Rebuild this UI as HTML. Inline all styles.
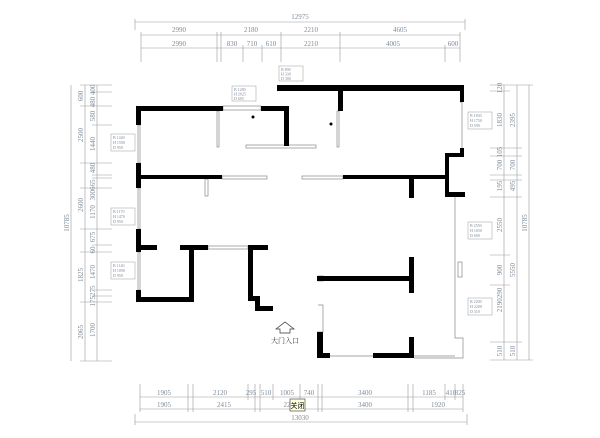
<!DOCTYPE html>
<html><head><meta charset="utf-8"><style>
html,body{margin:0;padding:0;background:#fff;width:600px;height:438px;overflow:hidden}
svg{display:block}
text{font-family:"Liberation Serif","Noto Serif CJK SC",serif;fill:#7f8c9a;font-size:7px}
</style></head><body>
<svg width="600" height="438" viewBox="0 0 600 438">
<g stroke="#999" stroke-width="0.6" fill="none">
<!-- top dims -->
<line x1="135" y1="22" x2="465" y2="22"/>
<line x1="135" y1="19" x2="135" y2="30"/><line x1="465" y1="19" x2="465" y2="30"/>
<line x1="141" y1="35" x2="460" y2="35"/>
<line x1="141" y1="48" x2="460" y2="48"/>
<g>
<line x1="141" y1="32" x2="141" y2="62"/><line x1="217" y1="32" x2="217" y2="62"/><line x1="221" y1="32" x2="221" y2="62"/>
<line x1="281" y1="32" x2="281" y2="62"/><line x1="340" y1="32" x2="340" y2="62"/><line x1="460" y1="32" x2="460" y2="62"/>
<line x1="243" y1="45" x2="243" y2="62"/><line x1="262" y1="45" x2="262" y2="62"/><line x1="445" y1="45" x2="445" y2="62"/>
</g>
<!-- bottom dims -->
<line x1="140" y1="397" x2="463" y2="397"/>
<line x1="140" y1="409" x2="463" y2="409"/>
<line x1="135" y1="422" x2="467" y2="422"/>
<line x1="135" y1="414" x2="135" y2="425"/><line x1="467" y1="414" x2="467" y2="425"/>
<g>
<line x1="140" y1="384" x2="140" y2="412"/><line x1="188" y1="384" x2="188" y2="412"/><line x1="193" y1="384" x2="193" y2="412"/>
<line x1="248" y1="384" x2="248" y2="400"/><line x1="255" y1="384" x2="255" y2="412"/><line x1="260" y1="384" x2="260" y2="412"/>
<line x1="273" y1="384" x2="273" y2="400"/><line x1="300" y1="384" x2="300" y2="400"/><line x1="318" y1="384" x2="318" y2="412"/>
<line x1="322" y1="384" x2="322" y2="412"/><line x1="408" y1="384" x2="408" y2="412"/><line x1="413" y1="384" x2="413" y2="412"/>
<line x1="445" y1="384" x2="445" y2="400"/><line x1="455" y1="384" x2="455" y2="400"/><line x1="463" y1="384" x2="463" y2="412"/>
</g>
<!-- left dims -->
<line x1="71" y1="85" x2="71" y2="361"/><line x1="85" y1="85" x2="85" y2="361"/><line x1="97" y1="85" x2="97" y2="361"/>
<g>
<line x1="80" y1="85" x2="112" y2="85"/><line x1="80" y1="106" x2="112" y2="106"/><line x1="80" y1="163" x2="112" y2="163"/>
<line x1="80" y1="188" x2="112" y2="188"/><line x1="80" y1="229" x2="112" y2="229"/><line x1="80" y1="252" x2="112" y2="252"/>
<line x1="80" y1="302" x2="112" y2="302"/><line x1="80" y1="361" x2="112" y2="361"/>
<line x1="92" y1="92" x2="112" y2="92"/><line x1="92" y1="125" x2="112" y2="125"/><line x1="92" y1="175" x2="112" y2="175"/>
<line x1="92" y1="178" x2="112" y2="178"/><line x1="92" y1="245" x2="112" y2="245"/><line x1="92" y1="290" x2="112" y2="290"/>
<line x1="92" y1="296" x2="112" y2="296"/>
</g>
<!-- right dims -->
<line x1="504" y1="85" x2="504" y2="360"/><line x1="517" y1="85" x2="517" y2="360"/><line x1="529" y1="85" x2="529" y2="360"/>
<g>
<line x1="490" y1="85" x2="533" y2="85"/><line x1="490" y1="148" x2="522" y2="148"/><line x1="490" y1="156" x2="522" y2="156"/>
<line x1="490" y1="175" x2="522" y2="175"/><line x1="490" y1="180" x2="522" y2="180"/><line x1="490" y1="197" x2="522" y2="197"/>
<line x1="490" y1="255" x2="510" y2="255"/><line x1="490" y1="285" x2="510" y2="285"/><line x1="490" y1="342" x2="522" y2="342"/>
<line x1="490" y1="360" x2="533" y2="360"/><line x1="490" y1="91" x2="510" y2="91"/>
</g>
</g>
<!-- dim texts -->
<g text-anchor="middle">
<text x="300" y="19">12975</text>
<text x="179" y="32">2990</text><text x="251" y="32">2180</text><text x="311" y="32">2210</text><text x="400" y="32">4605</text>
<text x="179" y="46">2990</text><text x="232" y="46">830</text><text x="252" y="46">710</text><text x="271" y="46">610</text>
<text x="311" y="46">2210</text><text x="393" y="46">4005</text><text x="453" y="46">600</text>
<text x="164" y="395">1905</text><text x="220" y="395">2120</text><text x="251" y="395">295</text><text x="266" y="395">510</text>
<text x="287" y="395">1005</text><text x="309" y="395">740</text><text x="365" y="395">3400</text><text x="429" y="395">1185</text>
<text x="451" y="395">410</text><text x="460" y="395">325</text>
<text x="164" y="407">1905</text><text x="224" y="407">2415</text><text x="287" y="407">22</text><text x="365" y="407">3400</text><text x="438" y="407">1920</text>
<text x="300" y="420">13030</text>
</g>
<g text-anchor="middle">
<text transform="translate(69,223) rotate(-90)">10785</text>
<text transform="translate(83,96) rotate(-90)">600</text><text transform="translate(83,135) rotate(-90)">2500</text>
<text transform="translate(83,205) rotate(-90)">2600</text><text transform="translate(83,275) rotate(-90)">1825</text>
<text transform="translate(83,332) rotate(-90)">2065</text>
<text transform="translate(95,96) rotate(-90)">480 400</text><text transform="translate(95,116) rotate(-90)">580</text>
<text transform="translate(95,144) rotate(-90)">1440</text><text transform="translate(95,168) rotate(-90)">480</text>
<text transform="translate(95,190) rotate(-90)">300665</text><text transform="translate(95,212) rotate(-90)">1170</text>
<text transform="translate(95,237) rotate(-90)">675</text><text transform="translate(95,250) rotate(-90)">60</text>
<text transform="translate(95,272) rotate(-90)">1470</text><text transform="translate(95,296) rotate(-90)">175275</text>
<text transform="translate(95,330) rotate(-90)">1700</text>
<text transform="translate(502,88) rotate(-90)">120</text><text transform="translate(502,120) rotate(-90)">1830</text>
<text transform="translate(502,152) rotate(-90)">105</text><text transform="translate(502,165) rotate(-90)">700</text>
<text transform="translate(502,186) rotate(-90)">195</text><text transform="translate(502,225) rotate(-90)">2550</text>
<text transform="translate(502,270) rotate(-90)">900</text><text transform="translate(502,300) rotate(-90)">2190290</text>
<text transform="translate(502,351) rotate(-90)">510</text>
<text transform="translate(515,120) rotate(-90)">2395</text><text transform="translate(515,165) rotate(-90)">700</text>
<text transform="translate(515,186) rotate(-90)">495</text><text transform="translate(515,270) rotate(-90)">5550</text>
<text transform="translate(515,351) rotate(-90)">510</text>
<text transform="translate(527,223) rotate(-90)">10785</text>
</g>
<!-- thin outlines -->
<g stroke="#888" stroke-width="0.7" fill="#fff">
<rect x="138" y="125" width="2" height="38"/>
<rect x="138" y="252" width="2" height="38"/>
<rect x="138" y="188" width="2" height="41"/>
<polyline points="455,197 455,338 463,338 463,358 414,358"/>
<polyline points="460,102 462,102 462,148"/>
<rect x="222" y="176" width="45" height="3"/>
<rect x="302" y="176" width="41" height="3"/>
<rect x="246" y="145" width="70" height="3"/>
<rect x="217" y="111" width="2" height="36"/>
<rect x="337" y="111" width="2" height="36"/>
<rect x="208" y="246" width="40" height="3"/>
<rect x="205" y="179" width="3" height="17"/>
<rect x="318" y="276" width="5" height="5"/>
<polyline points="318,305 323,305 323,332 317,332"/>
<polyline points="330,356 373,356"/>
<polyline points="414,356 455,356"/>
<rect x="458" y="262" width="4" height="15"/>
<rect x="223" y="106" width="38" height="4"/>
</g>
<!-- walls -->
<g fill="#000">
<rect x="136" y="106" width="87" height="5"/><rect x="136" y="106" width="5" height="19"/>
<rect x="136" y="163" width="5" height="25"/><rect x="136" y="175" width="86" height="4"/>
<rect x="261" y="106" width="28" height="5"/><rect x="284" y="106" width="5" height="40"/>
<rect x="277" y="85" width="187" height="6"/><rect x="460" y="85" width="4" height="17"/>
<rect x="338" y="91" width="5" height="20"/>
<rect x="460" y="148" width="4" height="8"/><rect x="445" y="153" width="19" height="4"/>
<rect x="445" y="153" width="4" height="44"/><rect x="445" y="192" width="20" height="5"/>
<rect x="343" y="175" width="102" height="4"/><rect x="409" y="179" width="5" height="19"/>
<rect x="136" y="229" width="5" height="23"/><rect x="136" y="245" width="21" height="5"/>
<rect x="136" y="290" width="5" height="12"/><rect x="136" y="297" width="57" height="5"/>
<rect x="189" y="245" width="5" height="57"/><rect x="180" y="245" width="28" height="5"/>
<rect x="248" y="245" width="20" height="5"/><rect x="248" y="245" width="5" height="55"/>
<rect x="248" y="296" width="12" height="5"/><rect x="255" y="296" width="5" height="15"/>
<rect x="255" y="306" width="18" height="5"/>
<rect x="317" y="276" width="96" height="5"/><rect x="409" y="257" width="5" height="36"/>
<rect x="317" y="332" width="6" height="26"/><rect x="317" y="353" width="13" height="5"/>
<rect x="373" y="353" width="41" height="5"/><rect x="409" y="337" width="5" height="21"/>
<circle cx="253" cy="117" r="1.5"/><circle cx="331" cy="124" r="1.5"/>
</g>
<!-- info boxes -->
<g font-size="4">
<g transform="translate(232,86)"><rect width="24" height="15" fill="#fff" stroke="#999" stroke-width="0.5"/><text x="2" y="5" style="font-size:4px">B  1280</text><text x="2" y="9.5" style="font-size:4px">H  2025</text><text x="2" y="14" style="font-size:4px">D  605</text></g>
<g transform="translate(279,66)"><rect width="24" height="15" fill="#fff" stroke="#999" stroke-width="0.5"/><text x="2" y="5" style="font-size:4px">B  890</text><text x="2" y="9.5" style="font-size:4px">H  330</text><text x="2" y="14" style="font-size:4px">D  300</text></g>
<g transform="translate(111,134)"><rect width="24" height="17" fill="#fff" stroke="#999" stroke-width="0.5"/><text x="2" y="5" style="font-size:4px">B  1440</text><text x="2" y="10" style="font-size:4px">H  1590</text><text x="2" y="15" style="font-size:4px">D  950</text></g>
<g transform="translate(111,208)"><rect width="24" height="17" fill="#fff" stroke="#999" stroke-width="0.5"/><text x="2" y="5" style="font-size:4px">B  1170</text><text x="2" y="10" style="font-size:4px">H  1470</text><text x="2" y="15" style="font-size:4px">D  950</text></g>
<g transform="translate(111,262)"><rect width="24" height="17" fill="#fff" stroke="#999" stroke-width="0.5"/><text x="2" y="5" style="font-size:4px">B  1140</text><text x="2" y="10" style="font-size:4px">H  1090</text><text x="2" y="15" style="font-size:4px">D  950</text></g>
<g transform="translate(468,112)"><rect width="24" height="17" fill="#fff" stroke="#999" stroke-width="0.5"/><text x="2" y="5" style="font-size:4px">B  1830</text><text x="2" y="10" style="font-size:4px">H  1750</text><text x="2" y="15" style="font-size:4px">D  590</text></g>
<g transform="translate(468,222)"><rect width="24" height="17" fill="#fff" stroke="#999" stroke-width="0.5"/><text x="2" y="5" style="font-size:4px">B  2550</text><text x="2" y="10" style="font-size:4px">H  1650</text><text x="2" y="15" style="font-size:4px">D  600</text></g>
<g transform="translate(468,298)"><rect width="24" height="17" fill="#fff" stroke="#999" stroke-width="0.5"/><text x="2" y="5" style="font-size:4px">B  2200</text><text x="2" y="10" style="font-size:4px">H  2200</text><text x="2" y="15" style="font-size:4px">D  310</text></g>
</g>
<!-- entrance -->
<polygon points="276,329 285,322 294,329 290,329 290,333 280,333 280,329" fill="#fff" stroke="#333" stroke-width="0.7"/>
<text x="285" y="343" text-anchor="middle" style="fill:#333;font-size:7px">大门入口</text>
<!-- tooltip -->
<rect x="290" y="399" width="15" height="12" fill="#ffffe1" stroke="#333" stroke-width="0.6"/>
<text x="297.5" y="408" text-anchor="middle" style="fill:#000;font-size:7px;font-family:'Noto Sans CJK SC',sans-serif">关闭</text>
</svg>
</body></html>
